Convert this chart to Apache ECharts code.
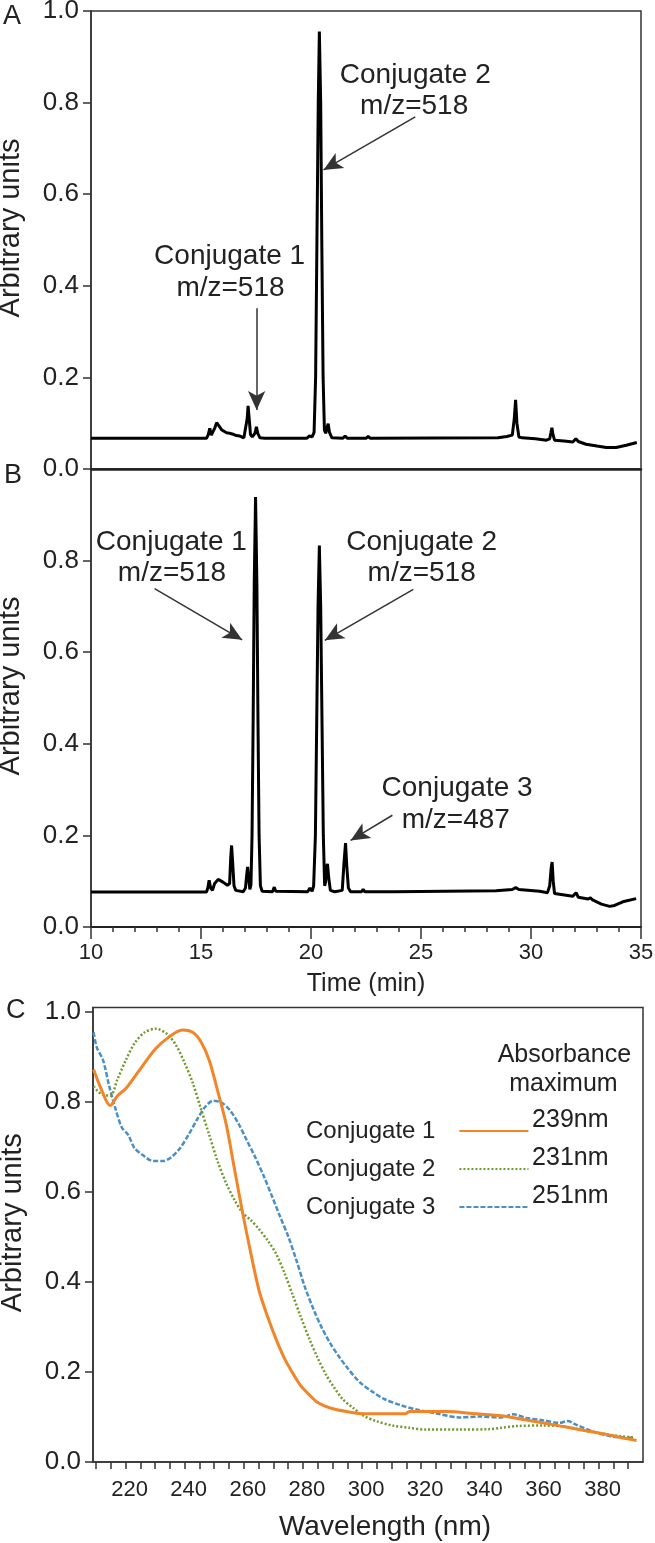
<!DOCTYPE html>
<html><head><meta charset="utf-8">
<script src="https://cdn.jsdelivr.net/npm/echarts@6/dist/echarts.min.js"></script>
<style>html,body{margin:0;padding:0;background:#fff}#c{width:655px;height:1543px}</style>
</head><body><div id="c"></div><script>
// ---------- DATA ----------
// Panel A chromatogram: [time (min), arbitrary units]
const traceA = [
 [10,0.067],[15.25,0.067],[15.33,0.075],[15.40,0.089],[15.47,0.074],[15.55,0.070],[15.63,0.090],[15.71,0.101],
 [15.80,0.095],[15.95,0.085],[16.16,0.079],[16.30,0.078],[16.46,0.076],[16.60,0.073],[16.77,0.072],[16.95,0.068],
 [17.04,0.072],[17.10,0.110],[17.14,0.138],[17.19,0.110],[17.25,0.075],[17.33,0.070],[17.45,0.078],[17.52,0.092],
 [17.58,0.078],[17.68,0.068],[17.90,0.067],[19.80,0.067],[19.93,0.072],[20.05,0.070],[20.14,0.080],[20.21,0.20],
 [20.27,0.50],[20.33,0.80],[20.38,0.955],[20.44,0.80],[20.49,0.50],[20.55,0.20],[20.61,0.085],[20.67,0.078],
 [20.72,0.088],[20.78,0.099],[20.84,0.080],[20.95,0.068],[21.45,0.067],[21.55,0.072],[21.65,0.067],[22.50,0.067],
 [22.60,0.071],[22.70,0.067],[28.50,0.068],[28.90,0.071],[29.15,0.074],[29.24,0.110],[29.30,0.151],[29.36,0.100],
 [29.45,0.070],[29.60,0.068],[30.20,0.066],[30.70,0.063],[30.85,0.066],[30.91,0.080],[30.95,0.090],[31.00,0.075],
 [31.07,0.063],[31.50,0.061],[31.90,0.059],[32.04,0.066],[32.15,0.060],[32.50,0.054],[33.00,0.050],[33.42,0.047],
 [33.87,0.047],[34.33,0.052],[34.81,0.058]
];
// Panel B chromatogram
const traceB = [
 [10,0.0764],[15.25,0.0764],[15.31,0.085],[15.37,0.102],[15.44,0.085],[15.52,0.080],[15.62,0.095],[15.78,0.104],
 [16.00,0.098],[16.20,0.091],[16.30,0.095],[16.35,0.150],[16.39,0.178],[16.44,0.140],[16.50,0.090],[16.58,0.080],
 [16.92,0.077],[17.02,0.085],[17.08,0.115],[17.12,0.131],[17.17,0.105],[17.22,0.082],[17.27,0.092],[17.32,0.20],
 [17.37,0.45],[17.42,0.75],[17.48,0.939],[17.54,0.75],[17.59,0.45],[17.64,0.20],[17.70,0.090],[17.78,0.078],
 [18.25,0.077],[18.33,0.087],[18.40,0.078],[19.85,0.077],[19.95,0.085],[20.05,0.078],[20.12,0.090],[20.20,0.20],
 [20.26,0.45],[20.32,0.70],[20.38,0.833],[20.44,0.70],[20.50,0.45],[20.56,0.20],[20.62,0.090],[20.67,0.100],
 [20.71,0.130],[20.75,0.138],[20.80,0.110],[20.88,0.080],[21.08,0.077],[21.42,0.080],[21.50,0.140],[21.57,0.183],
 [21.63,0.130],[21.70,0.085],[21.80,0.077],[22.30,0.077],[22.37,0.082],[22.45,0.077],[23.70,0.077],[23.75,0.079],
 [23.80,0.077],[28.40,0.079],[29.15,0.082],[29.30,0.086],[29.45,0.082],[30.39,0.078],[30.75,0.075],[30.85,0.090],
 [30.92,0.130],[30.96,0.142],[31.01,0.100],[31.07,0.073],[31.90,0.067],[32.05,0.075],[32.15,0.065],[32.60,0.061],
 [32.70,0.064],[32.80,0.059],[33.20,0.050],[33.57,0.045],[33.80,0.047],[34.17,0.055],[34.78,0.062]
];
// Panel C absorbance spectra: [wavelength (nm), arbitrary units]
const conj1 = [
 [209.2,0.872],[211.7,0.830],[214.8,0.792],[217.3,0.814],[220.1,0.830],[224.4,0.868],[230.0,0.917],[234.2,0.942],
 [239.2,0.960],[242.7,0.955],[245.5,0.934],[248.3,0.893],[251.1,0.826],[254.0,0.752],[256.8,0.653],[259.6,0.554],
 [262.4,0.463],[265.2,0.380],[268.1,0.322],[270.9,0.273],[273.7,0.231],[276.5,0.198],[279.3,0.169],[282.2,0.149],
 [285.0,0.132],[289.2,0.120],[294.8,0.112],[300.5,0.107],[314.6,0.107],[316.0,0.112],[328.7,0.112],[338.5,0.107],
 [347.0,0.103],[354.0,0.095],[361.0,0.087],[368.1,0.079],[375.2,0.070],[382.2,0.062],[387.8,0.054],[392.8,0.048]
];
const conj2 = [
 [209.2,0.835],[211.7,0.818],[214.8,0.814],[217.3,0.851],[220.1,0.893],[223.0,0.930],[226.5,0.955],[230.3,0.963],
 [234.2,0.950],[237.1,0.926],[239.9,0.888],[242.7,0.843],[245.5,0.785],[248.3,0.727],[251.1,0.669],[254.0,0.620],
 [256.8,0.583],[259.6,0.554],[262.4,0.537],[265.2,0.517],[268.1,0.492],[270.9,0.463],[273.7,0.421],[276.5,0.372],
 [279.3,0.322],[282.2,0.273],[285.0,0.231],[287.8,0.194],[290.6,0.165],[293.4,0.140],[297.0,0.120],[300.5,0.103],
 [304.7,0.091],[310.3,0.081],[316.0,0.076],[321.6,0.072],[332.9,0.072],[342.8,0.073],[347.0,0.076],[352.6,0.080],
 [361.0,0.081],[368.1,0.079],[375.2,0.070],[382.2,0.062],[392.0,0.054]
];
const conj3 = [
 [209.2,0.955],[210.3,0.921],[212.4,0.893],[214.5,0.835],[216.6,0.785],[218.7,0.744],[220.9,0.727],[223.0,0.698],
 [225.8,0.682],[229.3,0.669],[232.8,0.669],[235.6,0.678],[238.5,0.698],[241.3,0.727],[244.1,0.760],[246.9,0.789],
 [249.7,0.803],[252.6,0.798],[255.4,0.781],[258.2,0.752],[261.0,0.715],[263.8,0.678],[266.7,0.636],[269.5,0.591],
 [272.3,0.545],[275.1,0.500],[277.9,0.446],[280.7,0.388],[283.6,0.339],[286.4,0.298],[289.2,0.264],[292.0,0.236],
 [294.8,0.211],[299.1,0.178],[303.3,0.157],[307.5,0.140],[313.2,0.126],[318.8,0.116],[325.8,0.107],[332.9,0.099],
 [339.9,0.101],[347.0,0.099],[351.2,0.106],[355.4,0.098],[361.0,0.093],[366.7,0.087],[369.5,0.091],[372.3,0.083],
 [378.0,0.068],[385.0,0.056],[392.0,0.054]
];
const seriesNamesC = ['Conjugate 1','Conjugate 2','Conjugate 3'];
const absorbanceMax = ['239nm','231nm','251nm'];
const yTicks = [0,0.2,0.4,0.6,0.8,1.0];
const yTicksB = [0,0.2,0.4,0.6,0.8];
const timeTicks = [10,15,20,25,30,35];
const wlLabels = [220,240,260,280,300,320,340,360,380];
const wlTicks = [210,215,220,225,230,235,240,245,250,255,260,265,270,275,280,285,290,295,300,305,310,315,320,325,330,335,340,345,350,355,360,365,370,375,380,385,390];
// annotations (data coordinates)
const labelsA = [
 {text:'Conjugate 2', x:24.74, y:0.860},{text:'m/z=518', x:24.69, y:0.791},
 {text:'Conjugate 1', x:16.30, y:0.464},{text:'m/z=518', x:16.34, y:0.395}
];
const arrowsA = [[24.74,0.769,20.57,0.653],[17.53,0.351,17.53,0.129]];
const labelsB = [
 {text:'Conjugate 1', x:13.65, y:0.841},{text:'m/z=518', x:13.68, y:0.772},
 {text:'Conjugate 2', x:25.03, y:0.841},{text:'m/z=518', x:25.03, y:0.772},
 {text:'Conjugate 3', x:26.64, y:0.302},{text:'m/z=487', x:26.58, y:0.233}
];
const arrowsB = [[12.89,0.739,16.87,0.627],[24.65,0.737,20.63,0.626],[23.70,0.244,21.80,0.189]];
const legendHeader = [{text:'Absorbance', x:368.4, y:0.905},{text:'maximum', x:368.1, y:0.839}];
const maxLabelPos = [{x:357.5, y:0.759},{x:357.5, y:0.676},{x:357.5, y:0.591}];

// ---------- CHART ----------
const FONT = "'Liberation Sans', Arial, sans-serif";
const INK = '#222';
const chart = echarts.init(document.getElementById('c'), null, {renderer:'canvas'});

function arrowLines(list){
  return {
    silent:true, animation:false, symbol:['none','arrow'], symbolSize:[13,19],
    label:{show:false}, lineStyle:{color:'#333', width:1.5, type:'solid'},
    emphasis:{disabled:true},
    data: list.map(a => [{coord:[a[0],a[1]]},{coord:[a[2],a[3]]}])
  };
}
function yAxisCfg(gi, ticks, customMax){
  return {
    gridIndex:gi, type:'value', min:0, max:customMax||1, interval:0.2,
    axisLine:{show:true, lineStyle:{color:'#333', width:1.5}},
    axisTick:{show:true, length:8, lineStyle:{color:'#333', width:1.5}, customValues: ticks},
    axisLabel:{fontFamily:FONT, fontSize:26, color:INK, margin:12,
      customValues: ticks, formatter: v => Number(v).toFixed(1)},
    splitLine:{show:false},
    name:'Arbitrary units', nameLocation:'middle', nameGap:66,
    nameTextStyle:{fontFamily:FONT, fontSize:29, color:INK, padding:[0,0,0,24]}
  };
}
const gridBase = {show:true, borderColor:'#333', borderWidth:1.5, backgroundColor:'transparent',
                  containLabel:false, outerBoundsMode:'none'};

chart.setOption({
  animation:false,
  backgroundColor:'#ffffff',
  grid:[
    Object.assign({left:91, top:11, width:550, height:458}, gridBase),
    Object.assign({left:91, top:469, width:550, height:458}, gridBase),
    Object.assign({left:93, top:1007.5, width:550, height:454.5}, gridBase)
  ],
  xAxis:[
    {gridIndex:0, type:'value', min:10, max:35, interval:5,
     axisLine:{show:true, lineStyle:{color:'#222', width:2.5}}, axisTick:{show:false}, axisLabel:{show:false}, splitLine:{show:false}},
    {gridIndex:1, type:'value', min:10, max:35, interval:5,
     axisLine:{show:true, lineStyle:{color:'#222', width:2}},
     axisTick:{show:true, length:12, lineStyle:{color:'#333', width:1.5}},
     minorTick:{show:true, splitNumber:5, length:5, lineStyle:{color:'#333', width:1.5}},
     axisLabel:{fontFamily:FONT, fontSize:22, color:INK, margin:15, customValues: timeTicks},
     splitLine:{show:false},
     name:'Time (min)', nameLocation:'middle', nameGap:45,
     nameTextStyle:{fontFamily:FONT, fontSize:25, color:INK}},
    {gridIndex:2, type:'value', min:209, max:395,
     axisLine:{show:true, lineStyle:{color:'#333', width:1.5}},
     axisTick:{show:true, length:7, lineStyle:{color:'#333', width:1.5}, customValues: wlTicks},
     axisLabel:{fontFamily:FONT, fontSize:22, color:INK, margin:17, customValues: wlLabels, padding:[0,0,0,8]},
     splitLine:{show:false},
     name:'Wavelength (nm)', nameLocation:'middle', nameGap:51,
     nameTextStyle:{fontFamily:FONT, fontSize:28, color:INK, padding:[0,0,0,34]}}
  ],
  yAxis:[ yAxisCfg(0, yTicks), yAxisCfg(1, yTicksB), yAxisCfg(2, yTicks, 1.01) ],
  legend:{
    show:true, orient:'vertical', left:301, top:1112, align:'right',
    itemWidth:69, itemHeight:14, itemGap:10, selectedMode:false,
    itemStyle:{opacity:0, borderWidth:0},
    data: seriesNamesC,
    textStyle:{fontFamily:FONT, fontSize:24, color:INK, lineHeight:28, padding:[0,19,0,0]}
  },
  series:[
    {type:'line', name:'A', xAxisIndex:0, yAxisIndex:0, data:traceA, symbol:'none', showSymbol:false,
     lineStyle:{color:'#000', width:3}, markLine: arrowLines(arrowsA)},
    {type:'line', name:'B', xAxisIndex:1, yAxisIndex:1, data:traceB, symbol:'none', showSymbol:false,
     lineStyle:{color:'#000', width:3}, markLine: arrowLines(arrowsB)},
    {type:'line', name:seriesNamesC[0], xAxisIndex:2, yAxisIndex:2, data:conj1, symbol:'none', showSymbol:false, smooth:0.3,
     itemStyle:{color:'#f28528'}, lineStyle:{color:'#f28528', width:3, type:'solid'}, z:4},
    {type:'line', name:seriesNamesC[1], xAxisIndex:2, yAxisIndex:2, data:conj2, symbol:'none', showSymbol:false, smooth:0.3,
     itemStyle:{color:'#6f9a2c'}, lineStyle:{color:'#6f9a2c', width:2.5, type:[2,2]}, z:3},
    {type:'line', name:seriesNamesC[2], xAxisIndex:2, yAxisIndex:2, data:conj3, symbol:'none', showSymbol:false, smooth:0.3,
     itemStyle:{color:'#4a8fc6'}, lineStyle:{color:'#4a8fc6', width:2.5, type:[5,2]}, z:2}
  ]
});

// annotation texts placed through the axes' own coordinate conversion
function textAt(gi, item, size, align){
  const p = chart.convertToPixel({xAxisIndex:gi, yAxisIndex:gi}, [item.x, item.y]);
  return {type:'text', x:p[0], y:p[1], silent:true, z:50,
    style:{text:item.text, font: size + 'px ' + FONT, fill:INK, align:align||'center', verticalAlign:'middle'}};
}
const g = [];
labelsA.forEach(l => g.push(textAt(0, l, 28)));
labelsB.forEach(l => g.push(textAt(1, l, 28)));
legendHeader.forEach(l => g.push(textAt(2, l, 25)));
absorbanceMax.forEach((t,i) => g.push(textAt(2, {text:t, x:maxLabelPos[i].x, y:maxLabelPos[i].y}, 25, 'left')));
// panel letters
g.push({type:'text', left:3, top:3, silent:true, style:{text:'A', font:'27px '+FONT, fill:INK}});
g.push({type:'text', left:4, top:462, silent:true, style:{text:'B', font:'27px '+FONT, fill:INK}});
g.push({type:'text', left:6, top:997, silent:true, style:{text:'C', font:'27px '+FONT, fill:INK}});
chart.setOption({graphic: g});
</script></body></html>
